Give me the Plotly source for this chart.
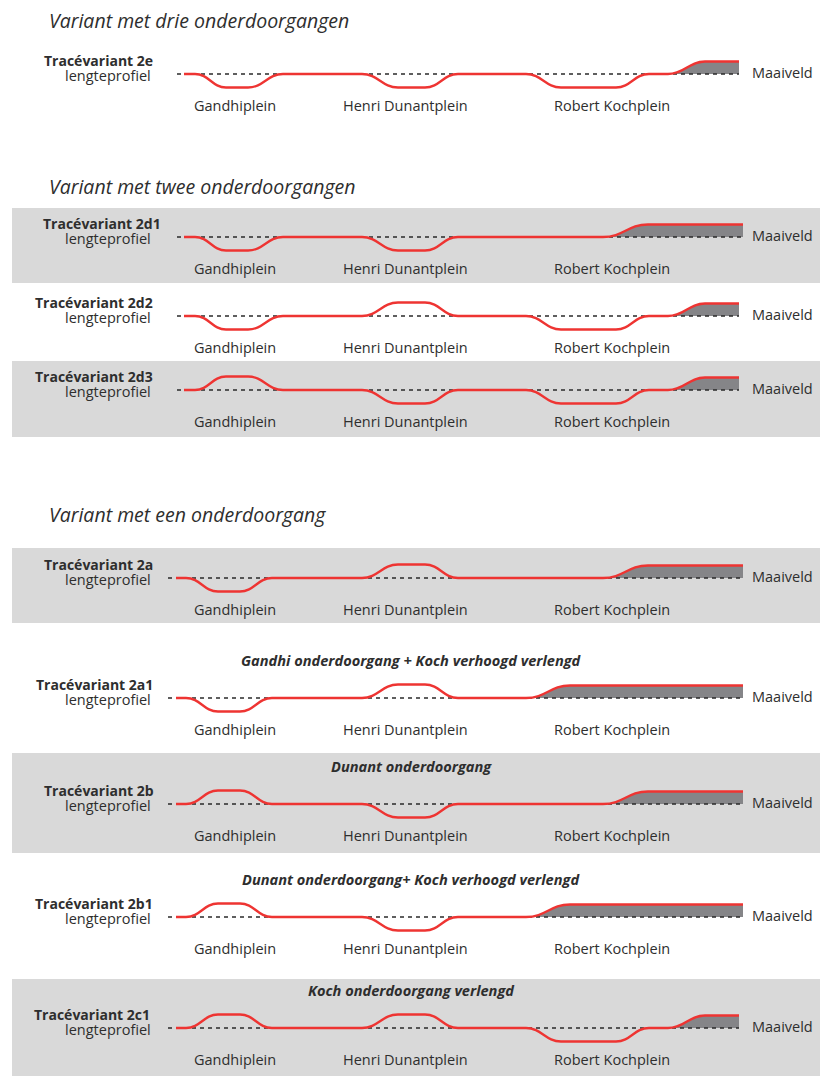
import plotly.graph_objects as go

# ---------------- data ----------------
section_titles = ["Variant met drie onderdoorgangen",
                  "Variant met twee onderdoorgangen",
                  "Variant met een onderdoorgang"]
variants = ["2e", "2d1", "2d2", "2d3", "2a", "2a1", "2b", "2b1", "2c1"]
# level per station: -1 = onderdoorgang, 0 = maaiveld, 1 = verhoogd
gandhi_level = [-1, -1, -1, 1, -1, -1, 1, 1, 1]
dunant_level = [-1, -1, 1, -1, 1, 1, -1, -1, 1]
koch_level = [-1, 0, -1, -1, 0, 0, 0, 0, -1]
ramp_kind = ["kort", "middel", "kort", "kort", "middel", "lang", "middel", "lang", "kort"]
subtitles = ["", "", "", "", "",
             "Gandhi onderdoorgang + Koch verhoogd verlengd",
             "Dunant onderdoorgang",
             "Dunant onderdoorgang+ Koch verhoogd verlengd",
             "Koch onderdoorgang verlengd"]
stations = ["Gandhiplein", "Henri Dunantplein", "Robert Kochplein"]
ground_label = "Maaiveld"
row_caption = "lengteprofiel"

# ---------------- layout constants (pixels) ----------------
W, H = 820, 1076
RED = "#ee3432"
TXT = "#2e2e2e"
BAND = "#d9d9d9"
FILL = "#858588"
FONT = "Open Sans"

baselines = [74, 237, 316, 390, 578, 698, 804, 917, 1028]
row_section = [0, 1, 1, 1, 2, 2, 2, 2, 2]
bands = [(208, 283), (361, 437), (548, 623), (753, 853), (979, 1076)]
title_y = [20, 186, 514]
upper = {"start": 184, "dash": 177, "g": (195, 226, 248, 283)}
lower = {"start": 176, "dash": 168, "g": (186, 218, 240, 272)}
dunant_geo = (362, 398, 425, 458)
koch_geo = (526, 561, 616, 649)
ramp_geo = {"kort": (668, 705, 739), "middel": (603, 648, 743), "lang": (526, 570, 743)}
AMP = 13.5
RAMP = 12.5
K = 0.45  # bezier handle fraction of a transition
station_x = [235, 405, 612]
label_right = [155, 163, 155, 155, 155, 155, 156, 155, 152]


def smooth_path(pts, close_to=None):
    """SVG path in data units: straight flats, S-curves between different levels"""
    px, py = pts[0]
    p = f"M{px},{py}"
    for x, y in pts[1:]:
        if y == py:
            p += f" L{x},{y}"
        else:
            h = K * (x - px)
            p += f" C{px + h},{py} {x - h},{y} {x},{y}"
        px, py = x, y
    if close_to is not None:
        p += f" L{px},{close_to} L{pts[0][0]},{close_to} Z"
    return p


fig = go.Figure()
below = []
above = []
ann = []

for y0, y1 in bands:
    below.append(dict(type="rect", xref="x", yref="y", x0=12, x1=W + 2, y0=y0, y1=y1,
                      fillcolor=BAND, line=dict(width=0), layer="below"))

for t, ty in zip(section_titles, title_y):
    ann.append(dict(x=47, y=ty, text=t, showarrow=False, xanchor="left", yanchor="middle",
                    font=dict(family=FONT, size=19.5, color=TXT, style="italic")))

for i, v in enumerate(variants):
    base = baselines[i]
    geo = upper if row_section[i] < 2 else lower
    pts = [(geo["start"], base)]
    for lvl, g in zip([gandhi_level[i], dunant_level[i], koch_level[i]],
                      [geo["g"], dunant_geo, koch_geo]):
        if lvl != 0:
            a, b, c, d = g
            low = base - lvl * AMP
            pts += [(a, base), (b, low), (c, low), (d, base)]
    rs, rt, re_ = ramp_geo[ramp_kind[i]]
    ramp_pts = [(rs, base), (rt, base - RAMP), (re_, base - RAMP)]
    pts += ramp_pts

    # grey body of the raised end section
    below.append(dict(type="path", xref="x", yref="y", path=smooth_path(ramp_pts, close_to=base),
                      fillcolor=FILL, line=dict(width=0), layer="below"))
    # maaiveld dashed line
    fig.add_trace(go.Scatter(x=[geo["dash"], re_], y=[base, base], mode="lines",
                             line=dict(width=1.3, color="#2a2a2a", dash="4px,4px"),
                             hoverinfo="skip", showlegend=False))
    # red length profile
    above.append(dict(type="path", xref="x", yref="y", path=smooth_path(pts),
                      line=dict(color=RED, width=2.3), layer="above"))

    ann.append(dict(x=label_right[i], y=base - 14, text="<b>Tracévariant " + v + "</b>",
                    showarrow=False, xanchor="right", yanchor="middle",
                    font=dict(family=FONT, size=14, color=TXT)))
    ann.append(dict(x=153, y=base + 1, text=row_caption, showarrow=False, xanchor="right",
                    yanchor="middle", font=dict(family=FONT, size=14.5, color=TXT)))
    for s, sx in zip(stations, station_x):
        ann.append(dict(x=sx, y=base + 31, text=s, showarrow=False, xanchor="center",
                        yanchor="middle", font=dict(family=FONT, size=14.5, color=TXT)))
    ann.append(dict(x=750, y=base - 2, text=ground_label, showarrow=False, xanchor="left",
                    yanchor="middle", font=dict(family=FONT, size=14.5, color=TXT)))
    if subtitles[i]:
        ann.append(dict(x=411, y=base - 38, text="<b><i>" + subtitles[i] + "</i></b>",
                        showarrow=False, xanchor="center", yanchor="middle",
                        font=dict(family=FONT, size=14.6, color=TXT)))

fig.update_layout(
    width=W, height=H, margin=dict(l=0, r=0, t=0, b=0, pad=0),
    paper_bgcolor="white", plot_bgcolor="white",
    xaxis=dict(range=[0, W], visible=False, fixedrange=True),
    yaxis=dict(range=[H, 0], visible=False, fixedrange=True),
    shapes=below + above, annotations=ann, showlegend=False,
)
fig.write_html("out.html", config={"displayModeBar": False},
               post_script="document.body.style.margin='0';document.body.style.overflow='hidden';")
